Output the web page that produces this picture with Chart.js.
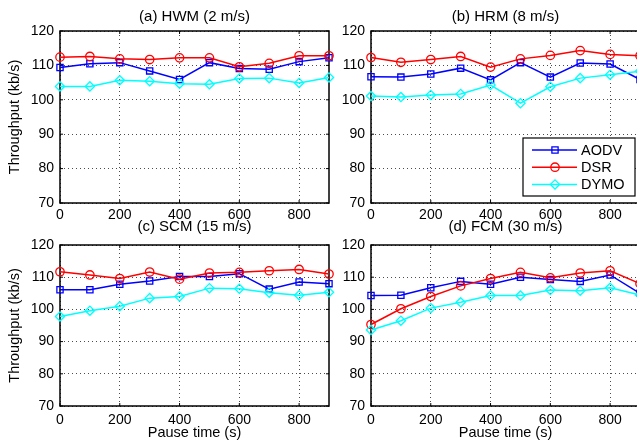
<!DOCTYPE html>
<html>
<head>
<meta charset="utf-8">
<script src="https://cdn.jsdelivr.net/npm/chart.js@4.4.0/dist/chart.umd.min.js"></script>
<style>
  html, body { margin: 0; padding: 0; background: #fff; overflow: hidden; }
  body { width: 637px; height: 445px; position: relative; }
  canvas { position: absolute; }
</style>
</head>
<body>
<canvas id="hwm" width="340" height="222" style="left:0;top:0"></canvas>
<canvas id="hrm" width="340" height="222" style="left:311px;top:0"></canvas>
<canvas id="scm" width="340" height="240" style="left:0;top:205px"></canvas>
<canvas id="fcm" width="340" height="240" style="left:311px;top:205px"></canvas>
<script>
// pause time (s) on x, throughput (kb/s) on y
const pauseTimes = [0, 100, 200, 300, 400, 500, 600, 700, 800, 900];
const xTicks = [0, 200, 400, 600, 800];
const yTicks = [70, 80, 90, 100, 110, 120];
const protocols = ['AODV', 'DSR', 'DYMO'];

const hwmAodv = [109.4, 110.5, 110.8, 108.4, 105.9, 110.8, 109.1, 108.9, 111.1, 112.2];
const hwmDsr  = [112.4, 112.6, 111.9, 111.7, 112.2, 112.2, 109.6, 110.6, 112.8, 112.8];
const hwmDymo = [103.9, 103.9, 105.7, 105.4, 104.7, 104.5, 106.2, 106.3, 104.9, 106.5];

const hrmAodv = [106.7, 106.6, 107.5, 109.2, 105.8, 110.8, 106.6, 110.7, 110.4, 105.9];
const hrmDsr  = [112.3, 110.9, 111.7, 112.6, 109.5, 111.9, 112.9, 114.3, 113.2, 112.8];
const hrmDymo = [101.1, 100.8, 101.4, 101.7, 104.3, 99.0, 103.8, 106.3, 107.3, 108.3];

const scmAodv = [106.1, 106.1, 107.8, 108.8, 110.2, 110.2, 111.1, 106.3, 108.5, 108.0];
const scmDsr  = [111.7, 110.7, 109.6, 111.6, 109.4, 111.3, 111.5, 112.0, 112.4, 111.0];
const scmDymo = [97.8, 99.6, 101.0, 103.5, 104.0, 106.6, 106.4, 105.2, 104.4, 105.3];

const fcmAodv = [104.3, 104.4, 106.7, 108.7, 107.8, 110.0, 109.3, 108.7, 110.7, 105.0];
const fcmDsr  = [95.3, 100.2, 104.0, 107.3, 109.6, 111.5, 109.8, 111.3, 112.0, 108.0];
const fcmDymo = [93.6, 96.5, 100.4, 102.2, 104.3, 104.3, 106.0, 105.8, 106.7, 104.5];

const FONT = "'Liberation Sans', Arial, Helvetica, sans-serif";
const seriesStyle = [
  { color: '#0000ff', pointStyle: 'rect', radius: 4.4 },
  { color: '#ff0000', pointStyle: 'circle', radius: 4.2 },
  { color: '#00ffff', pointStyle: 'rectRot', radius: 4.6 },
];

const panelFrame = {
  id: 'panelFrame',
  beforeDatasetsDraw(chart, args, opts) {
    const { ctx, chartArea: a, scales: { x, y } } = chart;
    ctx.save();
    ctx.strokeStyle = '#000';
    ctx.lineWidth = 1;
    ctx.beginPath();
    xTicks.forEach(v => {
      const px = x.getPixelForValue(v);
      ctx.moveTo(px, a.bottom); ctx.lineTo(px, a.bottom - 3);
      ctx.moveTo(px, a.top); ctx.lineTo(px, a.top + 3);
    });
    yTicks.forEach(v => {
      const py = y.getPixelForValue(v);
      ctx.moveTo(a.left, py); ctx.lineTo(a.left + 3, py);
      ctx.moveTo(a.right, py); ctx.lineTo(a.right - 3, py);
    });
    ctx.stroke();
    ctx.lineWidth = 1.5;
    ctx.strokeRect(a.left, a.top, a.right - a.left, a.bottom - a.top);
    ctx.fillStyle = '#000';
    ctx.font = `15px ${FONT}`;
    ctx.textAlign = 'center';
    ctx.textBaseline = 'middle';
    ctx.fillText(opts.title, (a.left + a.right) / 2, a.top - opts.titleOff);
    ctx.restore();
  },
  afterDraw(chart, args, opts) {
    if (!opts.legend) return;
    const { ctx, chartArea: a } = chart;
    const w = 112, h = 58;
    const bx = a.right - 5 - w, by = a.bottom - 7 - h;
    ctx.save();
    ctx.fillStyle = '#fff';
    ctx.fillRect(bx, by, w, h);
    ctx.strokeStyle = '#000';
    ctx.lineWidth = 1.2;
    ctx.strokeRect(bx, by, w, h);
    chart.data.datasets.forEach((ds, i) => {
      const cy = by + 12 + i * 17.2;
      ctx.strokeStyle = ds.borderColor;
      ctx.lineWidth = ds.borderWidth;
      ctx.beginPath();
      ctx.moveTo(bx + 9, cy); ctx.lineTo(bx + 54, cy);
      ctx.stroke();
      ctx.fillStyle = 'rgba(0,0,0,0)';
      ctx.lineWidth = ds.pointBorderWidth;
      Chart.helpers.drawPoint(ctx, { pointStyle: ds.pointStyle, radius: ds.pointRadius, borderWidth: ds.pointBorderWidth, rotation: 0 }, bx + 32, cy);
      ctx.fillStyle = '#000';
      ctx.font = `14.5px ${FONT}`;
      ctx.textAlign = 'left';
      ctx.textBaseline = 'middle';
      ctx.fillText(ds.label, bx + 58, cy + 1);
    });
    ctx.restore();
  }
};

function makePanel(id, title, series, o) {
  const datasets = series.map((vals, i) => ({
    label: protocols[i],
    data: pauseTimes.map((t, k) => ({ x: t, y: vals[k] })),
    borderColor: seriesStyle[i].color,
    borderWidth: 1.5,
    pointStyle: seriesStyle[i].pointStyle,
    pointRadius: seriesStyle[i].radius,
    pointBorderWidth: 1.3,
    pointBorderColor: seriesStyle[i].color,
    pointBackgroundColor: 'rgba(0,0,0,0)',
    tension: 0,
    clip: false,
    order: 3 - i,
  }));
  new Chart(document.getElementById(id), {
    type: 'line',
    data: { datasets },
    plugins: [panelFrame],
    options: {
      responsive: false,
      animation: false,
      events: [],
      layout: { padding: { top: o.padTop, right: 11, bottom: 0, left: 0 } },
      plugins: {
        legend: { display: false },
        tooltip: { enabled: false },
        panelFrame: { title, titleOff: o.titleOff, legend: !!o.legend },
      },
      scales: {
        x: {
          type: 'linear', min: 0, max: 900,
          afterBuildTicks: s => { s.ticks = xTicks.map(v => ({ value: v })); },
          afterFit: s => { s.height = o.xHeight; },
          grid: { color: 'rgba(0,0,0,0.7)', lineWidth: 1, drawTicks: false },
          border: { display: false, dash: [1, 3] },
          ticks: { color: '#000', padding: o.tickPad, maxRotation: 0, autoSkip: false, font: { family: FONT, size: 14 } },
          title: { display: !!o.xTitle, text: 'Pause time (s)', color: '#000', font: { family: FONT, size: 14.5 }, padding: { top: 0, bottom: 3 } },
        },
        y: {
          min: 70, max: 120,
          afterBuildTicks: s => { s.ticks = yTicks.map(v => ({ value: v })); },
          afterFit: s => { s.width = 60; },
          grid: { color: 'rgba(0,0,0,0.7)', lineWidth: 1, drawTicks: false },
          border: { display: false, dash: [1, 3] },
          ticks: { color: '#000', padding: 6, font: { family: FONT, size: 14 } },
          title: { display: !!o.yTitle, text: 'Throughput (kb/s)', color: '#000', font: { family: FONT, size: 14.5 }, padding: { top: 6, bottom: 0 } },
        },
      },
    },
  });
}

makePanel('hwm', '(a) HWM (2 m/s)', [hwmAodv, hwmDsr, hwmDymo], { padTop: 31, xHeight: 19, tickPad: 4, titleOff: 14.5, yTitle: true });
makePanel('hrm', '(b) HRM (8 m/s)', [hrmAodv, hrmDsr, hrmDymo], { padTop: 31, xHeight: 19, tickPad: 4, titleOff: 14.5, legend: true });
makePanel('scm', '(c) SCM (15 m/s)', [scmAodv, scmDsr, scmDymo], { padTop: 40, xHeight: 39, tickPad: 6, titleOff: 18, yTitle: true, xTitle: true });
makePanel('fcm', '(d) FCM (30 m/s)', [fcmAodv, fcmDsr, fcmDymo], { padTop: 40, xHeight: 39, tickPad: 6, titleOff: 18, xTitle: true });
</script>
</body>
</html>
